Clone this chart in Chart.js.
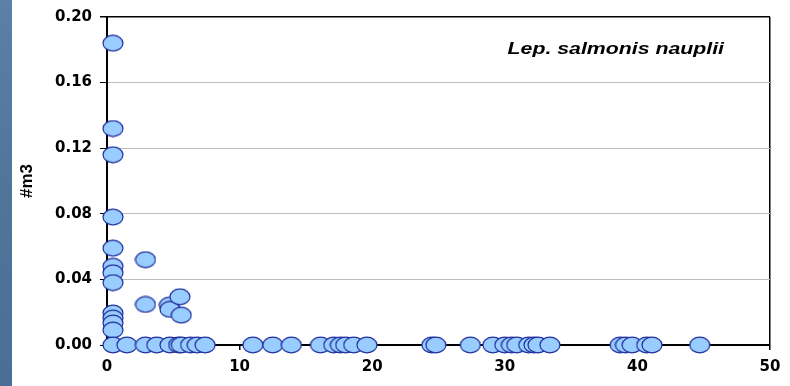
<!DOCTYPE html>
<html>
<head>
<meta charset="utf-8">
<script src="https://cdn.jsdelivr.net/npm/chart.js@4/dist/chart.umd.min.js"></script>
<style>
  html, body { margin: 0; padding: 0; background: #ffffff; }
  #wrap { position: relative; width: 790px; height: 386px; }
</style>
</head>
<body>
<div id="wrap"><canvas id="chart" width="790" height="386"></canvas></div>
<script>
// Sample positions (x) and nauplii density (#/m3)
const xValues = [
  0.45, 0.45, 0.45, 0.45, 0.45, 0.45, 0.45, 0.45, 0.45, 0.45, 0.45, 0.45,
  2.9, 2.9, 4.7, 4.75, 5.5, 5.6,
  0.45, 1.5, 2.9, 3.75, 4.75, 5.4, 5.6, 6.3, 6.8, 7.4,
  11.0, 12.5, 13.9, 16.1, 17.1, 17.6, 18.0, 18.6, 19.6,
  24.5, 24.8, 27.4, 29.1, 30.0, 30.5, 30.9, 31.8, 32.2, 32.5, 33.4,
  38.7, 39.1, 39.6, 40.7, 41.1, 44.7
];
const densityValues = [
  0.184, 0.132, 0.116, 0.078, 0.059, 0.048, 0.044, 0.038, 0.0195, 0.0164, 0.0134, 0.0091,
  0.052, 0.0247, 0.0243, 0.0217, 0.0294, 0.0182,
  0, 0, 0, 0, 0, 0, 0, 0, 0, 0,
  0, 0, 0, 0, 0, 0, 0, 0, 0,
  0, 0, 0, 0, 0, 0, 0, 0, 0, 0, 0,
  0, 0, 0, 0, 0, 0
];
const xTicks = [0, 10, 20, 30, 40, 50];
const yTicks = [0, 0.04, 0.08, 0.12, 0.16, 0.20];
const seriesLabel = 'Lep. salmonis nauplii';
const yTitle = '#m3';

const points = xValues.map((x, i) => ({ x: x, y: densityValues[i] }));

// Oval marker used for every point
const marker = document.createElement('canvas');
marker.width = 22; marker.height = 18;
(function () {
  const c = marker.getContext('2d');
  c.beginPath();
  c.ellipse(11, 9, 10, 7.8, 0, 0, Math.PI * 2);
  c.fillStyle = '#99ccff';
  c.fill();
  c.lineWidth = 1.2;
  c.strokeStyle = '#1f2f9c';
  c.stroke();
})();

// Slide-coloured strip on the left edge plus the in-plot series caption
const decor = {
  id: 'decor',
  beforeDraw(chart) {
    const ctx = chart.ctx;
    ctx.save();
    ctx.fillStyle = '#ffffff';
    ctx.fillRect(0, 0, chart.width, chart.height);
    const g = ctx.createLinearGradient(0, 0, 0, chart.height);
    g.addColorStop(0, '#5b80a9');
    g.addColorStop(0.5, '#4f7599');
    g.addColorStop(1, '#4a6f96');
    ctx.fillStyle = g;
    ctx.fillRect(0, 0, 12, chart.height);
    ctx.restore();
  },
  afterDraw(chart) {
    const ctx = chart.ctx;
    ctx.save();
    ctx.translate(724, 53.5);
    ctx.scale(1.33, 1);
    ctx.font = 'italic bold 16px "Liberation Sans", Arial, sans-serif';
    ctx.fillStyle = '#000000';
    ctx.textAlign = 'right';
    ctx.textBaseline = 'alphabetic';
    ctx.fillText(seriesLabel, 0, 0);
    ctx.restore();
  }
};

const tickFont = { family: '"DejaVu Sans", sans-serif', size: 15, weight: 'bold' };

new Chart(document.getElementById('chart'), {
  type: 'scatter',
  data: {
    datasets: [{
      label: seriesLabel,
      data: points,
      pointStyle: marker,
      pointRadius: 10,
      clip: false
    }]
  },
  options: {
    responsive: false,
    animation: false,
    events: [],
    layout: { padding: { left: 0, top: 16, right: 20, bottom: 0 } },
    plugins: { legend: { display: false }, tooltip: { enabled: false } },
    scales: {
      x: {
        type: 'linear',
        min: 0, max: 50,
        afterBuildTicks: (s) => { s.ticks = xTicks.map(v => ({ value: v })); },
        afterFit: (s) => { s.height = 41; },
        ticks: { color: '#000000', font: tickFont, padding: 8, maxRotation: 0 },
        grid: {
          drawOnChartArea: true,
          color: (c) => (c.tick && c.tick.value === 50 ? '#000000' : 'rgba(0,0,0,0)'),
          lineWidth: 1.5,
          tickColor: '#000000',
          tickLength: 5
        },
        border: { display: true, color: '#000000', width: 2 }
      },
      y: {
        type: 'linear',
        min: 0, max: 0.2,
        afterBuildTicks: (s) => { s.ticks = yTicks.map(v => ({ value: v })); },
        afterFit: (s) => { s.width = 107; },
        ticks: {
          color: '#000000', font: tickFont, padding: 8,
          callback: (v) => Number(v).toFixed(2)
        },
        grid: {
          color: (c) => (c.tick && Math.abs(c.tick.value - 0.2) < 1e-9 ? '#000000' : '#bdbdbd'),
          lineWidth: (c) => (c.tick && Math.abs(c.tick.value - 0.2) < 1e-9 ? 1.5 : 1),
          tickColor: '#000000',
          tickLength: 7
        },
        border: { display: true, color: '#000000', width: 2 },
        title: {
          display: true,
          text: yTitle,
          color: '#000000',
          font: { family: '"Liberation Sans", Arial, sans-serif', size: 17, weight: 'bold', lineHeight: 1.2 },
          padding: { top: 17, bottom: 0 }
        }
      }
    }
  },
  plugins: [decor]
});
</script>
</body>
</html>
